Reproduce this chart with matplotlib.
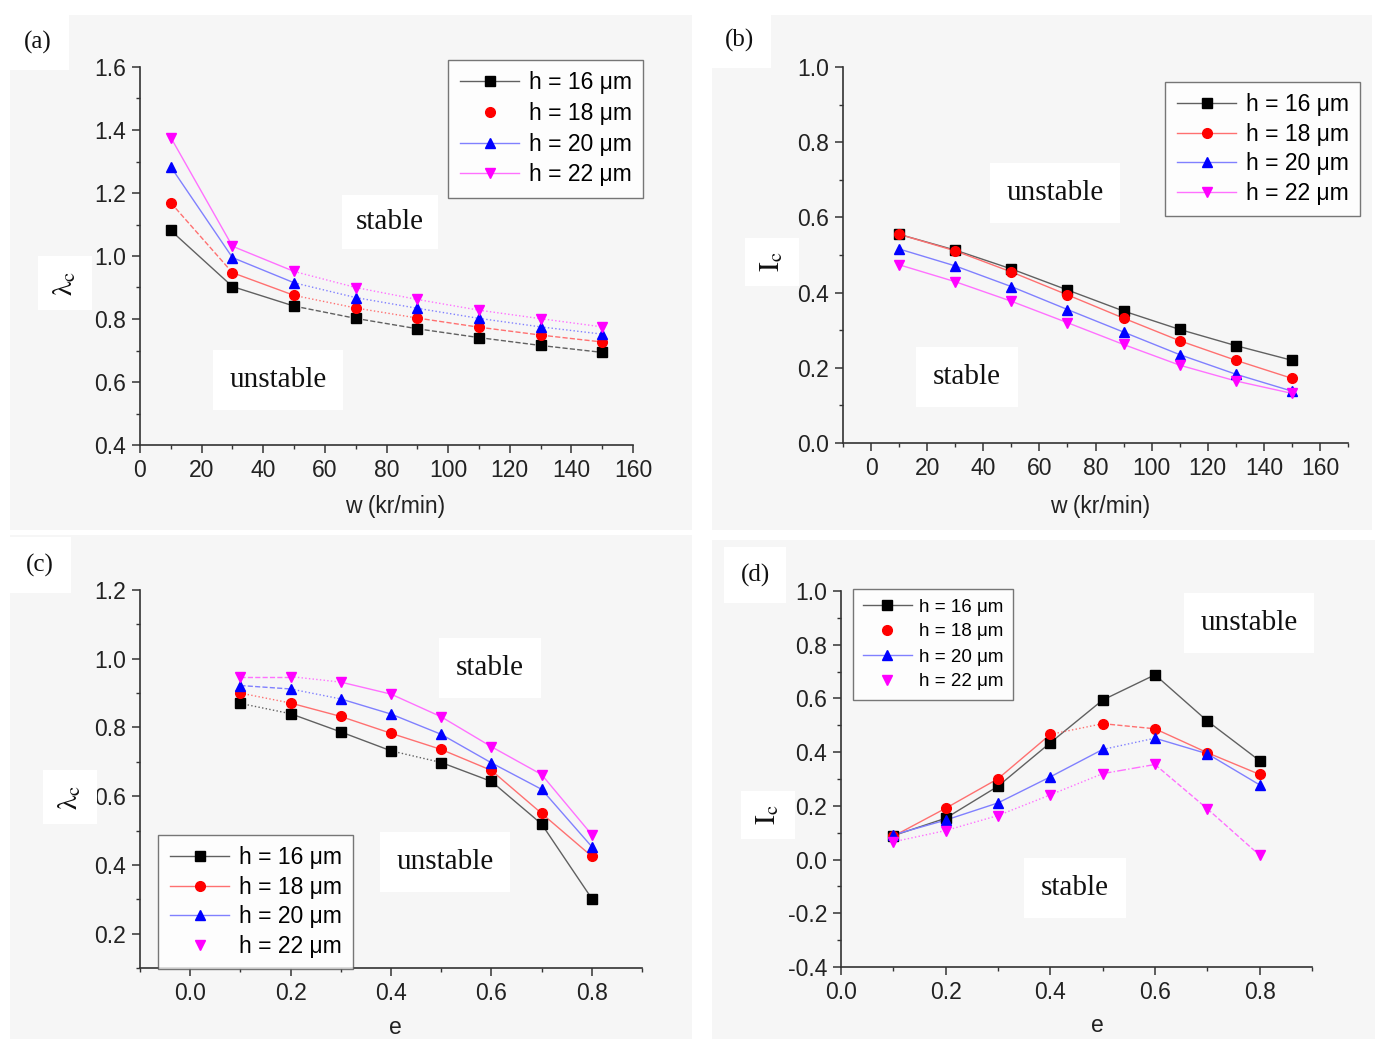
import matplotlib
matplotlib.use("Agg")
import matplotlib.pyplot as plt
from matplotlib.lines import Line2D
from matplotlib.patches import Rectangle
from matplotlib.ticker import MultipleLocator

plt.rcParams['font.family'] = ['Liberation Sans', 'DejaVu Sans']
plt.rcParams['mathtext.fontset'] = 'stix'
plt.rcParams['axes.unicode_minus'] = False

W, H = 1375, 1039
BG = '#f6f6f6'

labels = ['h = 16 μm', 'h = 18 μm', 'h = 20 μm', 'h = 22 μm']
mark_colors = ['black', 'red', 'blue', 'magenta']
line_colors = ['#606060', '#ff7070', '#8080ff', '#ff70ff']
markers = ['s', 'o', '^', 'v']

# (a) critical whirl ratio vs speed
w_speed = [10, 30, 50, 70, 90, 110, 130, 150]
lam_w_16 = [1.081, 0.903, 0.841, 0.802, 0.769, 0.741, 0.716, 0.694]
lam_w_18 = [1.169, 0.947, 0.875, 0.835, 0.803, 0.774, 0.749, 0.727]
lam_w_20 = [1.283, 0.995, 0.915, 0.868, 0.834, 0.802, 0.775, 0.752]
lam_w_22 = [1.376, 1.031, 0.951, 0.900, 0.862, 0.828, 0.801, 0.775]

# (b) critical mass vs speed
ic_w_16 = [0.555, 0.513, 0.463, 0.407, 0.351, 0.302, 0.259, 0.220]
ic_w_18 = [0.555, 0.511, 0.455, 0.394, 0.332, 0.272, 0.220, 0.172]
ic_w_20 = [0.516, 0.471, 0.416, 0.355, 0.295, 0.235, 0.183, 0.138]
ic_w_22 = [0.474, 0.429, 0.377, 0.320, 0.262, 0.207, 0.165, 0.132]

# (c) critical whirl ratio vs eccentricity
ecc = [0.1, 0.2, 0.3, 0.4, 0.5, 0.6, 0.7, 0.8]
lam_e_16 = [0.870, 0.840, 0.787, 0.732, 0.698, 0.643, 0.519, 0.302]
lam_e_18 = [0.900, 0.871, 0.832, 0.783, 0.736, 0.675, 0.550, 0.425]
lam_e_20 = [0.922, 0.912, 0.883, 0.839, 0.780, 0.697, 0.620, 0.453]
lam_e_22 = [0.948, 0.948, 0.932, 0.897, 0.831, 0.744, 0.663, 0.488]

# (d) critical mass vs eccentricity
ic_e_16 = [0.089, 0.154, 0.273, 0.435, 0.594, 0.688, 0.516, 0.368]
ic_e_18 = [0.087, 0.191, 0.301, 0.466, 0.506, 0.487, 0.398, 0.317]
ic_e_20 = [0.092, 0.147, 0.211, 0.308, 0.410, 0.452, 0.394, 0.278]
ic_e_22 = [0.066, 0.108, 0.164, 0.241, 0.320, 0.354, 0.189, 0.016]

# segment line styles (the original mixes solid / dashed / dotted pieces)
styles_a = [['-', '-', '--', '--', '--', '--', '--'],
            ['--', '-', ':', ':', '--', '--', '--'],
            ['-', '-', ':', ':', ':', ':', ':'],
            ['-', '-', ':', ':', ':', ':', ':']]
styles_b = [['-'] * 7] * 4
styles_c = [[':', '-', '-', ':', '-', '-', '-'],
            [':', '-', '-', '-', '-', '-', '-'],
            ['--', ':', '-', '-', '-', '-', '-'],
            ['--', ':', '-', '-', '-', '-', '-']]
styles_d = [['-'] * 7,
            ['-', '-', '-', ':', '--', '-', '-'],
            ['-', '-', '-', '-', ':', '-', '-'],
            [':', ':', ':', ':', '-.', '--', '--']]


def px(x, y):
    return x / W, 1 - y / H


def ax_rect(l, t, r, b):
    return [l / W, 1 - b / H, (r - l) / W, (b - t) / H]


def draw_series(ax, x, y, i, styles):
    for k in range(len(x) - 1):
        ax.plot(x[k:k + 2], y[k:k + 2], color=line_colors[i], lw=1.0,
                ls=styles[k], zorder=2)
    ax.plot(x, y, ls='none', marker=markers[i], color=mark_colors[i],
            ms=7, zorder=3)


def style_axes(ax, xlim, ylim, xmaj, ymaj, xfmt, yfmt):
    ax.set_facecolor(BG)
    ax.set_xlim(*xlim)
    ax.set_ylim(*ylim)
    for s in ['top', 'right']:
        ax.spines[s].set_visible(False)
    for s in ['left', 'bottom']:
        ax.spines[s].set_color('#333333')
        ax.spines[s].set_linewidth(1.2)
    ax.xaxis.set_major_locator(MultipleLocator(xmaj))
    ax.xaxis.set_minor_locator(MultipleLocator(xmaj / 2))
    ax.yaxis.set_major_locator(MultipleLocator(ymaj))
    ax.yaxis.set_minor_locator(MultipleLocator(ymaj / 2))
    ax.xaxis.set_major_formatter(xfmt)
    ax.yaxis.set_major_formatter(yfmt)
    ax.tick_params(which='major', direction='out', length=6, width=1.1,
                   color='#333333', labelsize=16.5, labelcolor='#222222',
                   pad=4)
    ax.tick_params(which='minor', direction='out', length=3, width=1.0,
                   color='#333333')


def add_legend(fig, line_flags, anchor, fs, spacing):
    handles = []
    for i in range(4):
        handles.append(Line2D([], [], color=line_colors[i],
                              ls='-' if line_flags[i] else 'none',
                              marker=markers[i], mfc=mark_colors[i],
                              mec=mark_colors[i], ms=7, lw=1.0))
    leg = fig.legend(handles, labels, loc='upper right',
                     bbox_to_anchor=anchor, fontsize=fs, frameon=True,
                     fancybox=False, handlelength=2.6, borderpad=0.5,
                     labelspacing=spacing, handletextpad=0.4,
                     borderaxespad=0)
    leg.get_frame().set_edgecolor('#555555')
    leg.get_frame().set_facecolor('white')
    leg.get_frame().set_linewidth(1.0)
    return leg


def white_text(fig, x, y, s, fs, family='Liberation Serif', rot=0, pad=8):
    fig.text(*px(x, y), s, fontsize=fs, family=family, rotation=rot,
             ha='center', va='center', color='#111111',
             bbox=dict(facecolor='white', edgecolor='none', pad=pad))


fig = plt.figure(figsize=(13.75, 10.39), dpi=100)
fig.patch.set_facecolor('white')

# light grey panel backgrounds
for (l, t, r, b) in [(10, 15, 692, 530), (712, 15, 1372, 530),
                     (10, 535, 692, 1039), (712, 540, 1375, 1039)]:
    fig.patches.append(Rectangle(px(l, b), (r - l) / W, (b - t) / H,
                                 transform=fig.transFigure,
                                 facecolor=BG, edgecolor='none', zorder=-5))

f1 = '{x:.1f}'
f0 = '{x:.0f}'

# (a)
ax_a = fig.add_axes(ax_rect(140, 67, 633, 445))
style_axes(ax_a, (0, 160), (0.4, 1.6), 20, 0.2, f0, f1)
for i, y in enumerate([lam_w_16, lam_w_18, lam_w_20, lam_w_22]):
    draw_series(ax_a, w_speed, y, i, styles_a[i])

# (b)
ax_b = fig.add_axes(ax_rect(843, 67, 1348, 443))
style_axes(ax_b, (-10, 170), (0.0, 1.0), 20, 0.2, f0, f1)
for i, y in enumerate([ic_w_16, ic_w_18, ic_w_20, ic_w_22]):
    draw_series(ax_b, w_speed, y, i, styles_b[i])

# (c)
ax_c = fig.add_axes(ax_rect(140, 590, 642, 968))
style_axes(ax_c, (-0.1, 0.9), (0.1, 1.2), 0.2, 0.2, f1, f1)
for i, y in enumerate([lam_e_16, lam_e_18, lam_e_20, lam_e_22]):
    draw_series(ax_c, ecc, y, i, styles_c[i])

# (d)
ax_d = fig.add_axes(ax_rect(841, 591, 1312, 967))
style_axes(ax_d, (0.0, 0.9), (-0.4, 1.0), 0.2, 0.2, f1, f1)
for i, y in enumerate([ic_e_16, ic_e_18, ic_e_20, ic_e_22]):
    draw_series(ax_d, ecc, y, i, styles_d[i])

# legends
add_legend(fig, [True, False, True, True], px(643, 60), 16.5, 0.33)
add_legend(fig, [True, True, True, True], px(1360, 82), 16.5, 0.28)
add_legend(fig, [True, True, True, False], px(353, 835), 16.5, 0.28)
add_legend(fig, [True, False, True, False], px(1013, 589), 13.5, 0.42)

# axis labels
fig.text(*px(395, 507), 'w (kr/min)', fontsize=16.5, ha='center',
         va='center', color='#222222')
fig.text(*px(1100, 507), 'w (kr/min)', fontsize=16.5, ha='center',
         va='center', color='#222222')
fig.text(*px(395, 1028), 'e', fontsize=16.5, ha='center', va='center',
         color='#222222')
fig.text(*px(1097, 1026), 'e', fontsize=16.5, ha='center', va='center',
         color='#222222')

white_text(fig, 65, 283, r'$\mathrm{\lambda_c}$', 21, rot=90, pad=10)
white_text(fig, 772, 262, r'$\mathrm{I_c}$', 21, rot=90, pad=10)
white_text(fig, 70, 797, r'$\mathrm{\lambda_c}$', 21, rot=90, pad=10)
white_text(fig, 768, 815, r'$\mathrm{I_c}$', 21, rot=90, pad=10)

# panel tags
white_text(fig, 38, 42, '(a)', 18, pad=12)
white_text(fig, 740, 40, '(b)', 18, pad=12)
white_text(fig, 40, 565, '(c)', 18, pad=12)
white_text(fig, 755, 575, '(d)', 18, pad=12)

# region annotations
white_text(fig, 390, 222, 'stable', 21, pad=10)
white_text(fig, 278, 380, 'unstable', 21, pad=12)
white_text(fig, 1055, 193, 'unstable', 21, pad=12)
white_text(fig, 967, 377, 'stable', 21, pad=12)
white_text(fig, 490, 668, 'stable', 21, pad=12)
white_text(fig, 445, 862, 'unstable', 21, pad=12)
white_text(fig, 1249, 623, 'unstable', 21, pad=12)
white_text(fig, 1075, 888, 'stable', 21, pad=12)

fig.savefig('out.png', dpi=100, facecolor='white')
